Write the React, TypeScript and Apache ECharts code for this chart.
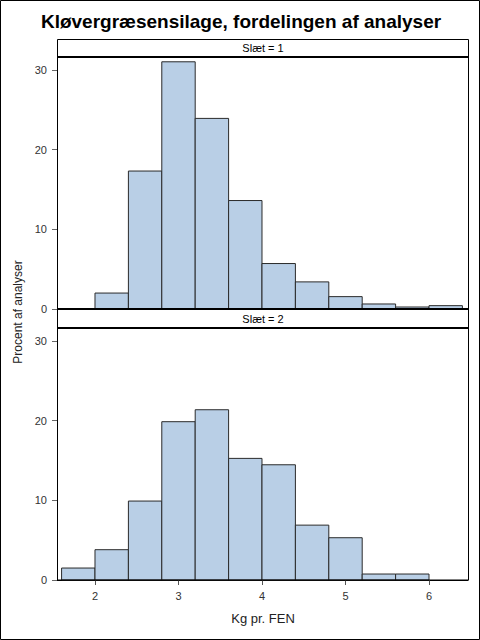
import React, { useEffect, useRef } from "react";
import * as echarts from "echarts";

const title = "Kløvergræsensilage, fordelingen af analyser";
const panelLabels = ["Slæt = 1", "Slæt = 2"];
const xName = "Kg pr. FEN";
const yName = "Procent af analyser";
const binStarts = [1.6, 2.0, 2.4, 2.8, 3.2, 3.6, 4.0, 4.4, 4.8, 5.2, 5.6, 6.0];
const binWidth = 0.4;
const slaet1 = [0, 2.0, 17.3, 31.0, 23.9, 13.6, 5.7, 3.4, 1.55, 0.63, 0.25, 0.42];
const slaet2 = [1.5, 3.8, 9.9, 19.85, 21.35, 15.25, 14.45, 6.88, 5.3, 0.75, 0.75, 0];
const xTicks = [2, 3, 4, 5, 6];
const yTicks = [0, 10, 20, 30];

const FONT = "Arial, 'Liberation Sans', Helvetica, sans-serif";
const X_MIN = 1.545;
const X_MAX = 6.467;
const Y_MAX = 31.6;
const L = 57;
const R = 468;

function binData(vals: number[]) {
  return binStarts
    .map((s, i) => [s, +(s + binWidth).toFixed(2), vals[i]])
    .filter((d) => d[2] > 0);
}

function renderBar(params: any, api: any) {
  const x0 = api.value(0);
  const x1 = api.value(1);
  const y = api.value(2);
  const p0 = api.coord([x0, y]);
  const p1 = api.coord([x1, 0]);
  return {
    type: "rect",
    shape: { x: p0[0], y: p0[1], width: p1[0] - p0[0], height: p1[1] - p0[1] },
    style: { fill: "#B9CFE6", stroke: "#2a2a2a", lineWidth: 1 },
  };
}

export default function App() {
  const ref = useRef<HTMLDivElement>(null);
  useEffect(() => {
    if (!ref.current) return;
    const chart = echarts.init(ref.current, undefined, { renderer: "svg" });
    const hline = (y: number, w: number) => ({
      type: "line",
      z: 100,
      shape: { x1: L, y1: y, x2: R + 0.5, y2: y },
      style: { stroke: "#000", lineWidth: w },
    });
    const frame = (y: number, h: number) => ({
      type: "rect",
      z: 99,
      shape: { x: L + 0.5, y, width: R - L, height: h },
      style: { fill: "none", stroke: "#000", lineWidth: 1 },
    });
    const yAxisCommon = {
      type: "value",
      min: 0,
      max: Y_MAX,
      axisLine: { show: true, lineStyle: { color: "#000", width: 1 } },
      axisTick: { show: true, length: 5, customValues: yTicks, lineStyle: { color: "#666" } },
      axisLabel: { customValues: yTicks, fontSize: 11, color: "#333", margin: 10, fontFamily: FONT },
      splitLine: { show: false },
    };
    chart.setOption({
      animation: false,
      backgroundColor: "#fff",
      grid: [
        { left: L, width: R - L, top: 57, height: 252 },
        { left: L, width: R - L, top: 328, height: 252 },
      ],
      xAxis: [
        {
          type: "value",
          gridIndex: 0,
          min: X_MIN,
          max: X_MAX,
          axisLine: { show: false },
          axisTick: { show: false },
          axisLabel: { show: false },
          splitLine: { show: false },
        },
        {
          type: "value",
          gridIndex: 1,
          min: X_MIN,
          max: X_MAX,
          axisLine: { show: true, lineStyle: { color: "#000", width: 1 } },
          axisTick: { show: true, length: 5, customValues: xTicks, lineStyle: { color: "#555" } },
          axisLabel: { customValues: xTicks, fontSize: 11, color: "#333", margin: 10, fontFamily: FONT },
          splitLine: { show: false },
        },
      ],
      yAxis: [
        { ...yAxisCommon, gridIndex: 0 },
        { ...yAxisCommon, gridIndex: 1 },
      ],
      series: [
        {
          type: "custom",
          xAxisIndex: 0,
          yAxisIndex: 0,
          renderItem: renderBar,
          encode: { x: [0, 1], y: 2 },
          data: binData(slaet1),
        },
        {
          type: "custom",
          xAxisIndex: 1,
          yAxisIndex: 1,
          renderItem: renderBar,
          encode: { x: [0, 1], y: 2 },
          data: binData(slaet2),
        },
      ],
      graphic: [
        {
          type: "rect",
          z: 98,
          shape: { x: 0.5, y: 0.5, width: 479, height: 639 },
          style: { fill: "none", stroke: "#000", lineWidth: 1 },
        },
        {
          type: "text",
          x: 241,
          y: 21,
          style: {
            text: title,
            font: `bold 19px ${FONT}`,
            fill: "#000",
            textAlign: "center",
            textVerticalAlign: "middle",
          },
        },
        {
          type: "rect",
          z: 99,
          shape: { x: L + 0.5, y: 39.5, width: R - L, height: 17.5 },
          style: { fill: "#fff", stroke: "#000", lineWidth: 1 },
        },
        {
          type: "text",
          z: 101,
          x: 263,
          y: 48,
          style: { text: panelLabels[0], font: `11px ${FONT}`, fill: "#000", textAlign: "center", textVerticalAlign: "middle" },
        },
        frame(57, 252),
        {
          type: "rect",
          z: 99,
          shape: { x: L + 0.5, y: 309, width: R - L, height: 19 },
          style: { fill: "#fff", stroke: "#000", lineWidth: 1 },
        },
        {
          type: "text",
          z: 101,
          x: 263,
          y: 318.5,
          style: { text: panelLabels[1], font: `11px ${FONT}`, fill: "#000", textAlign: "center", textVerticalAlign: "middle" },
        },
        frame(328, 252),
        hline(57, 2),
        hline(309, 2),
        hline(328, 2),
        {
          type: "text",
          x: 263,
          y: 618,
          style: { text: xName, font: `13px ${FONT}`, fill: "#222", textAlign: "center", textVerticalAlign: "middle" },
        },
        {
          type: "text",
          x: 18,
          y: 312,
          rotation: Math.PI / 2,
          style: { text: yName, font: `12px ${FONT}`, fill: "#222", textAlign: "center", textVerticalAlign: "middle" },
        },
      ],
    });
    return () => chart.dispose();
  }, []);
  return (
    <div
      ref={ref}
      style={{ position: "fixed", left: 0, top: 0, width: 480, height: 640, background: "#fff" }}
    />
  );
}
